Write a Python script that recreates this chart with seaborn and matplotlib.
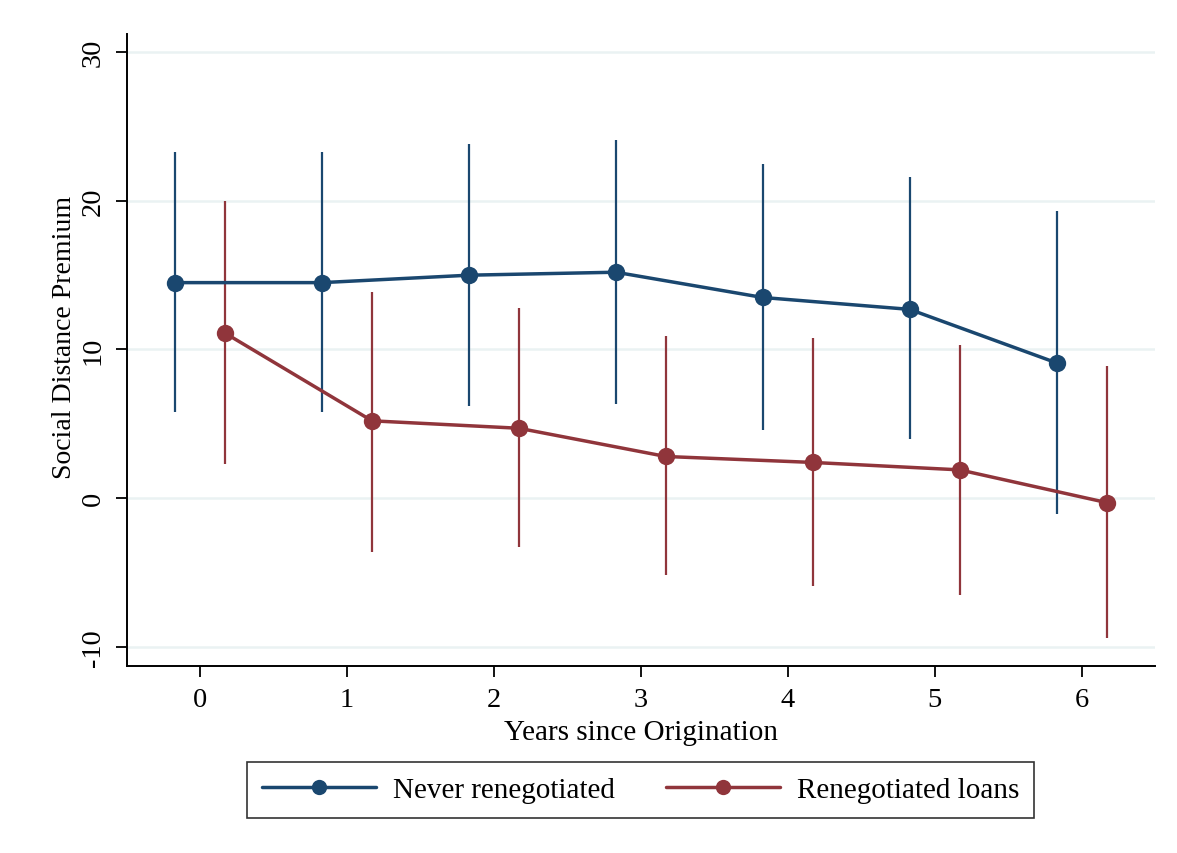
import numpy as np
import pandas as pd
import matplotlib
matplotlib.use("Agg")
import matplotlib.pyplot as plt
import seaborn as sns

sns.set_theme(style="white")
plt.rcParams['font.family'] = ['Liberation Serif', 'DejaVu Serif']
plt.rcParams['text.color'] = 'black'
plt.rcParams['axes.labelcolor'] = 'black'
plt.rcParams['xtick.color'] = 'black'
plt.rcParams['ytick.color'] = 'black'

# values
years = [0, 1, 2, 3, 4, 5, 6]
never_est = [14.5, 14.5, 15.0, 15.2, 13.5, 12.7, 9.1]
never_lo = [5.8, 5.8, 6.2, 6.3, 4.6, 4.0, -1.1]
never_hi = [23.3, 23.3, 23.8, 24.1, 22.5, 21.6, 19.3]
reneg_est = [11.1, 5.2, 4.7, 2.8, 2.4, 1.9, -0.3]
reneg_lo = [2.3, -3.6, -3.3, -5.2, -5.9, -6.5, -9.4]
reneg_hi = [20.0, 13.9, 12.8, 10.9, 10.8, 10.3, 8.9]
labels = ['Never renegotiated', 'Renegotiated loans']

blue = '#1a476f'
red = '#90353b'
shift = 0.17

df = pd.concat([
    pd.DataFrame({'x': np.array(years) - shift, 'est': never_est, 'lo': never_lo,
                  'hi': never_hi, 'group': labels[0]}),
    pd.DataFrame({'x': np.array(years) + shift, 'est': reneg_est, 'lo': reneg_lo,
                  'hi': reneg_hi, 'group': labels[1]}),
])

fig = plt.figure(figsize=(11.77, 8.54), dpi=100)
ax = fig.add_axes([0.1076, 0.2193, 0.8737, 0.7397])

# confidence intervals
for g, c in zip(labels, [blue, red]):
    d = df[df.group == g]
    ax.vlines(d.x, d.lo, d.hi, color=c, lw=1.6, zorder=2)

sns.lineplot(data=df, x='x', y='est', hue='group', palette=[blue, red],
             marker='o', markersize=12.5, markeredgewidth=0, linewidth=2.5,
             ax=ax, zorder=3, legend=True)

ax.set_xlim(-0.5, 6.5)
ax.set_ylim(-11.28, 31.23)
ax.set_xticks(years)
ax.set_yticks([-10, 0, 10, 20, 30])
ax.set_yticklabels(['-10', '0', '10', '20', '30'], rotation=90, va='center')
ax.tick_params(axis='both', which='major', labelsize=20.5, length=8, width=1.3,
               direction='out', left=True, bottom=True)
ax.tick_params(axis='x', pad=7)
ax.tick_params(axis='y', pad=7)
ax.yaxis.grid(True, color='#eaf2f3', lw=1.8)
ax.xaxis.grid(False)
for s in ['top', 'right']:
    ax.spines[s].set_visible(False)
for s in ['left', 'bottom']:
    ax.spines[s].set_color('black')
    ax.spines[s].set_linewidth(1.4)

ax.set_xlabel('Years since Origination', fontsize=21)
ax.set_ylabel('Social Distance Premium', fontsize=20)
ax.xaxis.set_label_coords(0.5, -0.105)
ax.xaxis.label.set_va('center')
ax.yaxis.set_label_coords(-0.06, 0.522)
ax.yaxis.label.set_va('center')

leg = ax.legend(loc='upper center', bbox_to_anchor=(0.5, -0.1525), ncol=2,
                fontsize=21, frameon=True, fancybox=False, edgecolor='black',
                handlelength=3.9, handletextpad=0.6, columnspacing=1.75,
                borderpad=0.5, borderaxespad=0, markerscale=0.88)
leg.get_frame().set_linewidth(1.2)

fig.savefig('out.png', dpi=100, facecolor='white')
